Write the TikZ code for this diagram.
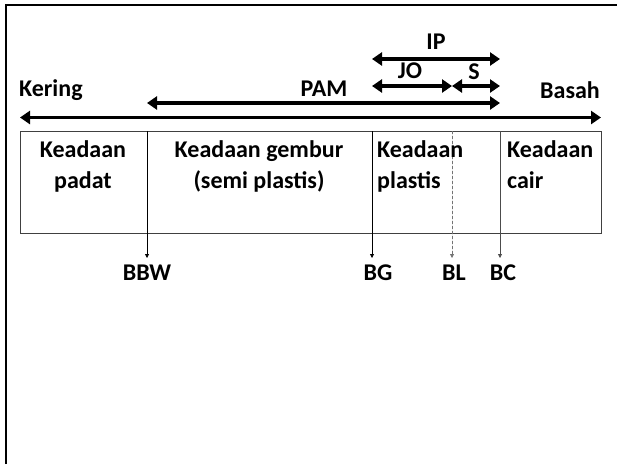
\documentclass[tikz,border=0pt]{standalone}
\usepackage{fontspec}
\setmainfont{Carlito}
\usetikzlibrary{arrows.meta}
\begin{document}
\begin{tikzpicture}[x=1pt,y=-1pt,
  lbl/.style={font=\bfseries\fontsize{24}{31}\selectfont, inner sep=0pt},
  spanarrow/.style={line width=3.2pt, {Triangle[length=10pt,width=13pt]}-{Triangle[length=10pt,width=13pt]}},
  limitarrow/.style={line width=0.8pt, -{Triangle[length=4pt,width=4pt]}},
  boxline/.style={line width=1pt, draw=black!75}]
\useasboundingbox (0,0) rectangle (617,464);
% frame
\draw[line width=2.2pt] (6,464) -- (6,5) -- (617,5);
% boundary positions
\coordinate (x0) at (20,0);
\coordinate (xbbw) at (147,0);
\coordinate (xbg) at (372,0);
\coordinate (xbl) at (452,0);
\coordinate (xbc) at (500,0);
\coordinate (x1) at (601,0);
% state box
\coordinate (boxTL) at (20,131);
\coordinate (boxBR) at (601,233);
\draw[boxline] (boxTL) rectangle (boxBR);
% dividers and limit arrows
\foreach \n/\st in {bbw/black, bg/black, bc/black!70} {
  \coordinate (t\n) at (x\n |- boxTL);
  \coordinate (b\n) at ([yshift=-25pt] x\n |- boxBR);
  \draw[limitarrow, draw=\st, fill=\st] (t\n) -- (b\n);
}
\coordinate (tbl) at (xbl |- boxTL);
\coordinate (bbl) at ([yshift=-25pt] xbl |- boxBR);
\draw[limitarrow, dash pattern=on 3pt off 2pt, draw=black!55, fill=black!70] (tbl) -- (bbl);
% range arrows
\coordinate (aL) at (20,117.5);
\coordinate (aR) at (601,117.5);
\draw[spanarrow] (aL) -- (aR);
\coordinate (pamL) at (147,103);
\coordinate (pamR) at (500,103);
\draw[spanarrow] (pamL) -- (pamR);
\coordinate (joL) at (372,86);
\coordinate (joR) at (452,86);
\coordinate (sR) at (500,86);
\draw[spanarrow] (joL) -- (joR);
\draw[spanarrow] (joR) -- (sR);
\coordinate (ipL) at (372,59);
\coordinate (ipR) at (500,59);
\draw[spanarrow] (ipL) -- (ipR);
% range labels
\node[lbl, anchor=west] (kering) at (19,90) {Kering};
\node[lbl] (pam) at (324,89) {PAM};
\node[lbl, anchor=east] (basah) at (600,90) {Basah};
\node[lbl] (ip) at (436,42) {IP};
\node[lbl] (jo) at (410,71) {JO};
\node[lbl] (s) at (474,72) {S};
% state labels
\node[lbl, align=center, anchor=north] (padat) at (83,140) {Keadaan\\padat};
\node[lbl, align=center, anchor=north] (gembur) at (259,140) {Keadaan gembur\\(semi plastis)};
\node[lbl, align=left, anchor=north west] (plastis) at (377,140) {Keadaan\\plastis};
\node[lbl, align=left, anchor=north west] (cair) at (507,140) {Keadaan\\cair};
% limit labels
\node[lbl, anchor=north] (bbwl) at (bbbw |- 0,265) {BBW};
\node[lbl, anchor=north] (bgl) at ([xshift=6pt] bbg |- 0,265) {BG};
\node[lbl, anchor=north] (bll) at ([xshift=2pt] bbl |- 0,265) {BL};
\node[lbl, anchor=north] (bcl) at ([xshift=3pt] bbc |- 0,265) {BC};
\end{tikzpicture}
\end{document}
